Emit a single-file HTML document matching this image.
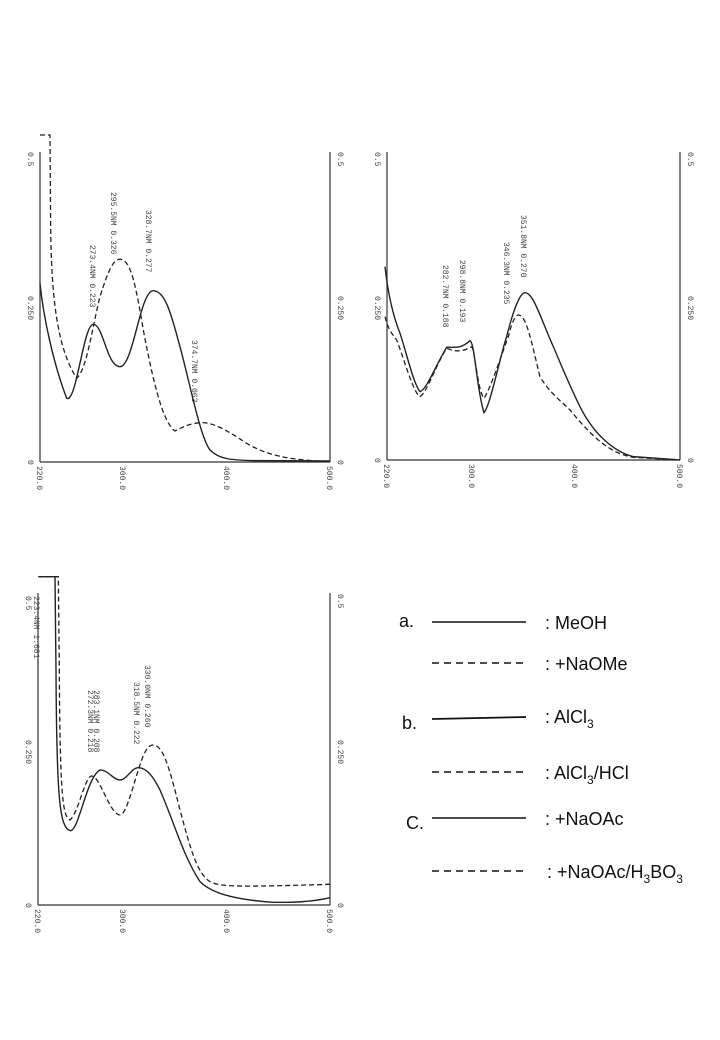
<!DOCTYPE html>
<html><head><meta charset="utf-8"><style>
html,body{margin:0;padding:0;background:#fff}
svg{display:block}
.ax{stroke:#333;stroke-width:1.2;fill:none}
.s{stroke:#222;stroke-width:1.4;fill:none;vector-effect:non-scaling-stroke}
.d{stroke:#222;stroke-width:1.3;fill:none;stroke-dasharray:5 3;vector-effect:non-scaling-stroke}
.t{font-family:"Liberation Mono",monospace;font-size:8px;fill:#444}
.lg{font-family:"Liberation Sans",sans-serif;font-size:18px;fill:#111}
</style></head><body>
<svg width="720" height="1040" viewBox="0 0 720 1040" xmlns="http://www.w3.org/2000/svg">
<!-- Plot 1 -->
<g>
<line class="ax" x1="40" y1="152" x2="40" y2="462"/><line class="ax" x1="330" y1="152" x2="330" y2="462"/>
<line class="ax" x1="40" y1="462" x2="330" y2="462"/>
<g class="t">
<text transform="translate(28,152) rotate(90)">0.5</text><text transform="translate(28,296) rotate(90)">0.250</text><text transform="translate(28,460) rotate(90)">0</text>
<text transform="translate(338,152) rotate(90)">0.5</text><text transform="translate(338,296) rotate(90)">0.250</text><text transform="translate(338,460) rotate(90)">0</text>
<text transform="translate(37,466) rotate(90)">220.0</text><text transform="translate(120,466) rotate(90)">300.0</text><text transform="translate(224,466) rotate(90)">400.0</text><text transform="translate(327,466) rotate(90)">500.0</text>
<text transform="translate(90,245) rotate(90)">273.4NM  0.223</text>
<text transform="translate(111,192) rotate(90)">295.5NM  0.326</text>
<text transform="translate(146,210) rotate(90)">328.7NM  0.277</text>
<text transform="translate(192,340) rotate(90)">374.7NM  0.063</text>
</g>
<g transform="translate(20,130) scale(0.3333)">
<path class="s" d="M60,460 C70,560 100,700 140,805 C170,820 190,583 220,583 C250,583 260,710 300,710 C340,710 360,482 400,482 C440,482 460,580 480,650 C510,760 540,920 570,960 C600,990 640,990 700,992 L930,993"/>
<path class="d" d="M60,15 L90,15 L92,300 C95,500 110,650 170,745 C200,720 215,600 240,500 C265,420 280,388 300,388 C330,388 345,450 370,600 C400,760 430,880 465,903 C490,890 510,880 545,878 C580,878 620,900 680,940 C740,975 800,990 930,995"/>
</g>
</g>
<!-- Plot 2 -->
<g>
<line class="ax" x1="387" y1="152" x2="387" y2="460"/><line class="ax" x1="680" y1="152" x2="680" y2="460"/>
<line class="ax" x1="387" y1="460" x2="680" y2="460"/>
<g class="t">
<text transform="translate(375,152) rotate(90)">0.5</text><text transform="translate(375,296) rotate(90)">0.250</text><text transform="translate(375,458) rotate(90)">0</text>
<text transform="translate(688,152) rotate(90)">0.5</text><text transform="translate(688,296) rotate(90)">0.250</text><text transform="translate(688,458) rotate(90)">0</text>
<text transform="translate(384,464) rotate(90)">220.0</text><text transform="translate(469,464) rotate(90)">300.0</text><text transform="translate(572,464) rotate(90)">400.0</text><text transform="translate(677,464) rotate(90)">500.0</text>
<text transform="translate(443,265) rotate(90)">282.7NM  0.188</text>
<text transform="translate(460,260) rotate(90)">298.8NM  0.193</text>
<text transform="translate(504,242) rotate(90)">346.3NM  0.235</text>
<text transform="translate(521,215) rotate(90)">351.8NM  0.270</text>
</g>
<g transform="translate(360,130) scale(0.3333)">
<path class="s" d="M75,410 C85,500 100,560 120,610 C140,670 160,760 180,785 C200,780 230,700 260,652 C280,650 300,660 330,632 C345,640 350,780 372,848 C390,830 420,680 440,620 C460,540 480,488 495,488 C520,488 540,560 580,650 C610,720 630,770 660,830 C700,910 760,965 820,980 L960,990"/>
<path class="d" d="M75,560 C85,600 95,610 110,630 C130,680 160,790 180,800 C200,790 230,700 260,655 C280,662 300,670 335,650 C345,660 352,780 372,805 C390,780 430,660 445,620 C455,580 465,555 475,555 C500,555 515,640 540,740 C570,790 600,810 630,840 C680,900 740,970 820,982 L960,990"/>
</g>
</g>
<!-- Plot 3 -->
<g>
<line class="ax" x1="38" y1="593" x2="38" y2="905"/><line class="ax" x1="330" y1="593" x2="330" y2="905"/>
<line class="ax" x1="38" y1="905" x2="330" y2="905"/>
<g class="t">
<text transform="translate(26,596) rotate(90)">0.5</text><text transform="translate(26,740) rotate(90)">0.250</text><text transform="translate(26,903) rotate(90)">0</text>
<text transform="translate(338,594) rotate(90)">0.5</text><text transform="translate(338,740) rotate(90)">0.250</text><text transform="translate(338,903) rotate(90)">0</text>
<text transform="translate(35,909) rotate(90)">220.0</text><text transform="translate(120,909) rotate(90)">300.0</text><text transform="translate(224,909) rotate(90)">400.0</text><text transform="translate(327,909) rotate(90)">500.0</text>
<text transform="translate(34,596) rotate(90)">223.4NM  1.681</text>
<text transform="translate(88,690) rotate(90)">272.3NM  0.218</text>
<text transform="translate(94,690) rotate(90)">283.1NM  0.208</text>
<text transform="translate(134,682) rotate(90)">318.5NM  0.222</text>
<text transform="translate(145,665) rotate(90)">330.0NM  0.260</text>
</g>
<g transform="translate(20,570) scale(0.3333)">
<path class="s" d="M55,20 L105,20 L108,300 C110,700 120,770 150,782 C175,790 200,620 240,600 C265,600 280,630 300,630 C320,630 335,593 355,593 C380,593 400,620 420,660 C460,750 490,860 540,935 C580,975 660,990 760,997 C820,998 880,995 930,983"/>
<path class="d" d="M55,20 L115,20 L118,300 C120,700 130,740 150,750 C175,730 195,618 215,618 C240,618 270,735 300,735 C320,735 340,640 365,570 C380,530 390,525 400,525 C430,525 450,600 480,720 C510,830 530,910 570,935 C600,950 640,952 930,943"/>
</g>
</g>
<!-- Legend -->
<g class="lg">
<text x="399" y="627">a.</text>
<line x1="432" y1="622" x2="526" y2="622" stroke="#111" stroke-width="1.6"/>
<text x="545" y="629">: MeOH</text>
<line x1="432" y1="663" x2="526" y2="663" stroke="#111" stroke-width="1.4" stroke-dasharray="7 5"/>
<text x="545" y="670">: +NaOMe</text>
<text x="402" y="729">b.</text>
<line x1="432" y1="719" x2="526" y2="717" stroke="#111" stroke-width="1.8"/>
<text x="545" y="723">: AlCl<tspan font-size="12" dy="5">3</tspan></text>
<line x1="432" y1="772" x2="526" y2="772" stroke="#111" stroke-width="1.4" stroke-dasharray="7 5"/>
<text x="545" y="779">: AlCl<tspan font-size="12" dy="5">3</tspan><tspan dy="-5">/HCl</tspan></text>
<text x="406" y="829">C.</text>
<line x1="432" y1="818" x2="526" y2="818" stroke="#111" stroke-width="1.6"/>
<text x="545" y="825">: +NaOAc</text>
<line x1="432" y1="871" x2="526" y2="871" stroke="#111" stroke-width="1.4" stroke-dasharray="7 5"/>
<text x="547" y="878">: +NaOAc/H<tspan font-size="12" dy="5">3</tspan><tspan dy="-5">BO</tspan><tspan font-size="12" dy="5">3</tspan></text>
</g>
</svg>
</body></html>
